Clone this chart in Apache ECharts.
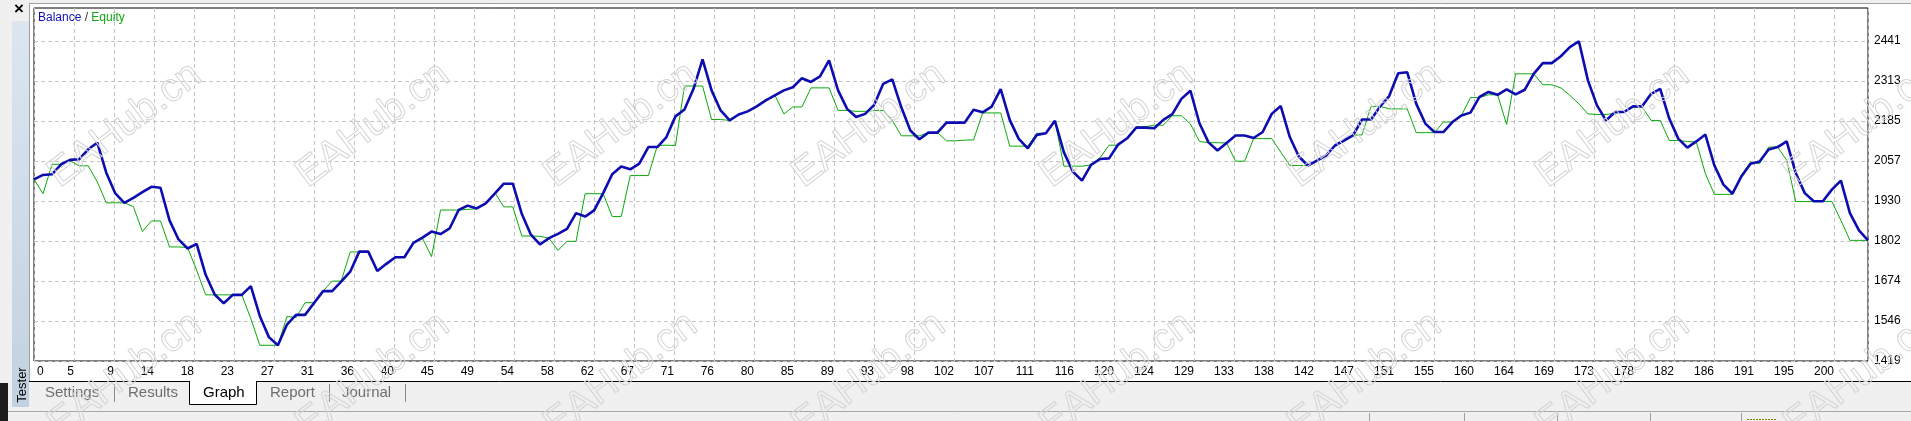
<!DOCTYPE html>
<html><head><meta charset="utf-8">
<script src="https://cdn.jsdelivr.net/npm/echarts@6/dist/echarts.min.js"></script>
<style>html,body{margin:0;padding:0;background:#fff;overflow:hidden}#c{width:1911px;height:421px}</style>
</head><body><div id="c"></div><script>
// ---- data (trade index 0..203) ----
const xTickLabels = ['0','5','9','14','18','23','27','31','36','40','45','49','54','58','62','67','71','76','80','85','89','93','98','102','107','111','116','120','124','129','133','138','142','147','151','155','160','164','169','173','178','182','186','191','195','200'];
const yTickLabels = ['1419','1546','1674','1802','1930','2057','2185','2313','2441'];
const yTickValues = [1418.75,1546.5,1674.25,1802,1929.75,2057.5,2185.25,2313,2440.75];
const balance = [
1999,2013,2015,2047,2061,2063,2095,2116,2020,1954,
1924,1940,1958,1975,1972,1868,1807,1778,1793,1694,
1631,1603,1630,1630,1658,1562,1495,1469,1535,1566,
1566,1604,1642,1642,1672,1704,1768,1768,1706,1729,
1750,1750,1796,1813,1832,1824,1842,1901,1915,1906,
1922,1953,1985,1985,1888,1822,1791,1811,1825,1841,
1891,1880,1900,1955,2015,2040,2031,2049,2102,2102,
2134,2200,2222,2288,2382,2283,2219,2187,2206,2216,
2232,2251,2267,2283,2293,2322,2310,2328,2379,2283,
2224,2198,2208,2237,2304,2318,2229,2155,2127,2148,
2148,2180,2180,2180,2221,2213,2231,2287,2189,2128,
2098,2141,2146,2186,2085,2023,1995,2045,2064,2066,
2110,2130,2164,2164,2162,2189,2207,2256,2282,2178,
2117,2091,2115,2139,2139,2131,2150,2208,2233,2134,
2072,2043,2059,2075,2107,2123,2139,2190,2190,2232,
2265,2338,2341,2240,2177,2150,2150,2182,2203,2212,
2262,2278,2269,2286,2270,2285,2336,2370,2370,2392,
2421,2440,2315,2235,2187,2214,2214,2232,2232,2272,
2288,2193,2129,2100,2120,2142,2043,1982,1953,2009,
2049,2056,2094,2102,2120,2019,1955,1929,1929,1966,
1995,1891,1836,1804];
const equity = [
1999,1953,2047,2047,2058,2042,2042,1991,1924,1924,
1924,1912,1832,1866,1866,1783,1783,1781,1709,1630,
1630,1630,1630,1630,1554,1469,1469,1469,1561,1557,
1605,1605,1642,1674,1674,1767,1767,1767,1706,1729,
1750,1750,1796,1811,1752,1901,1901,1901,1903,1905,
1920,1957,1911,1911,1818,1818,1817,1811,1772,1801,
1801,1953,1953,1953,1880,1880,2011,2011,2011,2107,
2108,2107,2297,2297,2297,2190,2190,2187,2206,2216,
2232,2251,2268,2208,2230,2230,2291,2291,2291,2219,
2219,2216,2216,2219,2219,2187,2138,2138,2138,2148,
2148,2122,2122,2124,2125,2211,2211,2211,2105,2105,
2105,2146,2146,2186,2041,2041,2041,2045,2068,2108,
2108,2130,2167,2167,2172,2172,2202,2202,2176,2120,
2116,2116,2115,2057,2057,2129,2129,2129,2086,2043,
2043,2043,2059,2075,2107,2124,2140,2141,2232,2232,
2224,2224,2224,2148,2148,2148,2182,2182,2203,2260,
2260,2269,2269,2174,2336,2336,2336,2301,2301,2291,
2267,2240,2208,2206,2206,2210,2214,2230,2230,2187,
2187,2123,2123,2120,2118,2017,1951,1951,1951,2013,
2054,2049,2102,2102,2060,1928,1928,1928,1928,1928,
1868,1804,1804,1804];
const tabs = ['Settings','Results','Graph','Report','Journal'];
const watermarkText = 'EAHub.cn';

// ---- chart ----
const chart = echarts.init(document.getElementById('c'), null, {renderer:'canvas'});
const lastIdx = balance.length - 1;
const PLOT_W = 1834, GRID_PX = 40;
const xInterval = lastIdx * GRID_PX / PLOT_W;
const yStep = 127.75, yMin = 1418.75, PLOT_H = 353;
const yMax = yMin + PLOT_H * yStep / GRID_PX;
const FONT = '"Liberation Sans", Arial, sans-serif';
const gridLine = {show:true, lineStyle:{color:'#c4c4c4', width:1, type:[4,3]}};

const graphics = [];
// window chrome
graphics.push({type:'rect', z:-5, shape:{x:0,y:0,width:1911,height:4}, style:{fill:'#f0f0f0'}});
graphics.push({type:'rect', z:-5, shape:{x:0,y:0,width:29,height:421}, style:{fill:'#f0f0f0'}});
graphics.push({type:'rect', z:-5, shape:{x:29,y:382,width:1882,height:39}, style:{fill:'#f0f0f0'}});
graphics.push({type:'line', z:-4, shape:{x1:29,y1:3.5,x2:1911,y2:3.5}, style:{stroke:'#a0a0a0',lineWidth:1}});
graphics.push({type:'line', z:-4, shape:{x1:29.5,y1:3,x2:29.5,y2:382}, style:{stroke:'#a0a0a0',lineWidth:1}});
graphics.push({type:'rect', z:-4, shape:{x:12,y:21,width:17,height:386},
  style:{fill:new echarts.graphic.LinearGradient(0,0,0,1,[{offset:0,color:'#dbe6f1'},{offset:1,color:'#c2d1e1'}])}});
graphics.push({type:'rect', z:-4, shape:{x:0,y:383,width:8,height:38}, style:{fill:'#1c1c1c'}});
graphics.push({type:'text', z:5, x:19, y:9, style:{text:'×', font:'bold 17px '+FONT, fill:'#000', textAlign:'center', textVerticalAlign:'middle'}});
graphics.push({type:'text', z:5, x:22, y:385, rotation:Math.PI/2, style:{text:'Tester', font:'13px '+FONT, fill:'#000', textAlign:'center', textVerticalAlign:'middle'}});
// tab strip
graphics.push({type:'line', z:-3, shape:{x1:29,y1:381.5,x2:1911,y2:381.5}, style:{stroke:'#000',lineWidth:1}});
graphics.push({type:'rect', z:-2, shape:{x:189.5,y:381,width:67,height:23}, style:{fill:'#fff'}});
graphics.push({type:'polyline', z:-1, shape:{points:[[189.5,381],[189.5,404.5],[256.5,404.5],[256.5,381]]}, style:{stroke:'#000',lineWidth:1,fill:null}});
const tabX = [45,128,203,270,342];
tabs.forEach((t,i)=>{
  graphics.push({type:'text', z:5, x:tabX[i], y:392.5, style:{text:t, font:'15px '+FONT, fill: t==='Graph' ? '#000' : '#6e6e6e', textAlign:'left', textVerticalAlign:'middle'}});
});
[114.5,329.5,405.5].forEach(x=>graphics.push({type:'line', z:5, shape:{x1:x,y1:384,x2:x,y2:402}, style:{stroke:'#8a8a8a',lineWidth:1}}));
graphics.push({type:'line', z:-3, shape:{x1:8,y1:411.5,x2:1911,y2:411.5}, style:{stroke:'#a8a8a8',lineWidth:1}});
[1369.5,1464.5,1557.5,1650.5,1741.5].forEach(x=>graphics.push({type:'line', z:5, shape:{x1:x,y1:413,x2:x,y2:421}, style:{stroke:'#a0a0a0',lineWidth:1}}));
graphics.push({type:'line', z:5, shape:{x1:1747,y1:419.5,x2:1777,y2:419.5}, style:{stroke:'#808000',lineWidth:1,lineDash:[2,1]}});
// watermark
for (let r=0;r<2;r++) for (let k=0;k<8;k++) {
  graphics.push({type:'text', z:200, x:125+248*k, y:125+250*r, rotation:0.645,
    style:{text:watermarkText, font:'40px '+FONT, fill:'rgba(255,255,255,0)', stroke:'#d4d4d4', lineWidth:1, textAlign:'center', textVerticalAlign:'middle'}});
}

const option = {
  animation:false,
  backgroundColor:'#fff',
  title:{left:38, top:12, padding:0,
    text:'{b|Balance} {s|/} {e|Equity}',
    textStyle:{fontFamily:FONT, fontSize:12, fontWeight:'normal',
      rich:{b:{color:'#1010b8',fontSize:12,fontFamily:FONT},s:{color:'#333',fontSize:12,fontFamily:FONT},e:{color:'#10a810',fontSize:12,fontFamily:FONT}}}},
  grid:{left:34, top:8, width:PLOT_W, height:PLOT_H, show:true, backgroundColor:'#fff', borderColor:'#000', borderWidth:1},
  xAxis:{type:'value', min:0, max:lastIdx, interval:xInterval, position:'bottom',
    axisLine:{show:false}, axisTick:{show:false}, splitLine:gridLine,
    axisLabel:{show:true, color:'#000', fontFamily:FONT, fontSize:12, margin:5, align:'right', alignMinLabel:'left', showMaxLabel:true,
      formatter:(v)=>{const k=Math.round(v/xInterval); return Math.abs(v-k*xInterval)<0.05 && xTickLabels[k]!==undefined ? (k===0?'{z|0}':xTickLabels[k]) : '';},
      rich:{z:{padding:[0,0,0,3],fontFamily:FONT,fontSize:12,color:'#000'}}}},
  yAxis:{type:'value', min:yMin, max:yMax, position:'right',
    axisLine:{show:false}, axisTick:{show:false, customValues:yTickValues}, splitLine:gridLine,
    axisLabel:{customValues:yTickValues, color:'#000', fontFamily:FONT, fontSize:12, margin:6, align:'left',
      formatter:(v)=>{const k=Math.round((v-yMin)/yStep); return yTickLabels[k]||'';}}},
  series:[
    {name:'Equity', type:'line', data:equity.map((v,i)=>[i,v]), showSymbol:false, symbol:'none', z:2,
      lineStyle:{color:'#0aaa0a', width:1}, emphasis:{disabled:true}},
    {name:'Balance', type:'line', data:balance.map((v,i)=>[i,v]), showSymbol:false, symbol:'none', z:3,
      lineStyle:{color:'#0c0cb0', width:2.6}, emphasis:{disabled:true}}
  ],
  graphic:{elements:graphics}
};
chart.setOption(option);
</script></body></html>
